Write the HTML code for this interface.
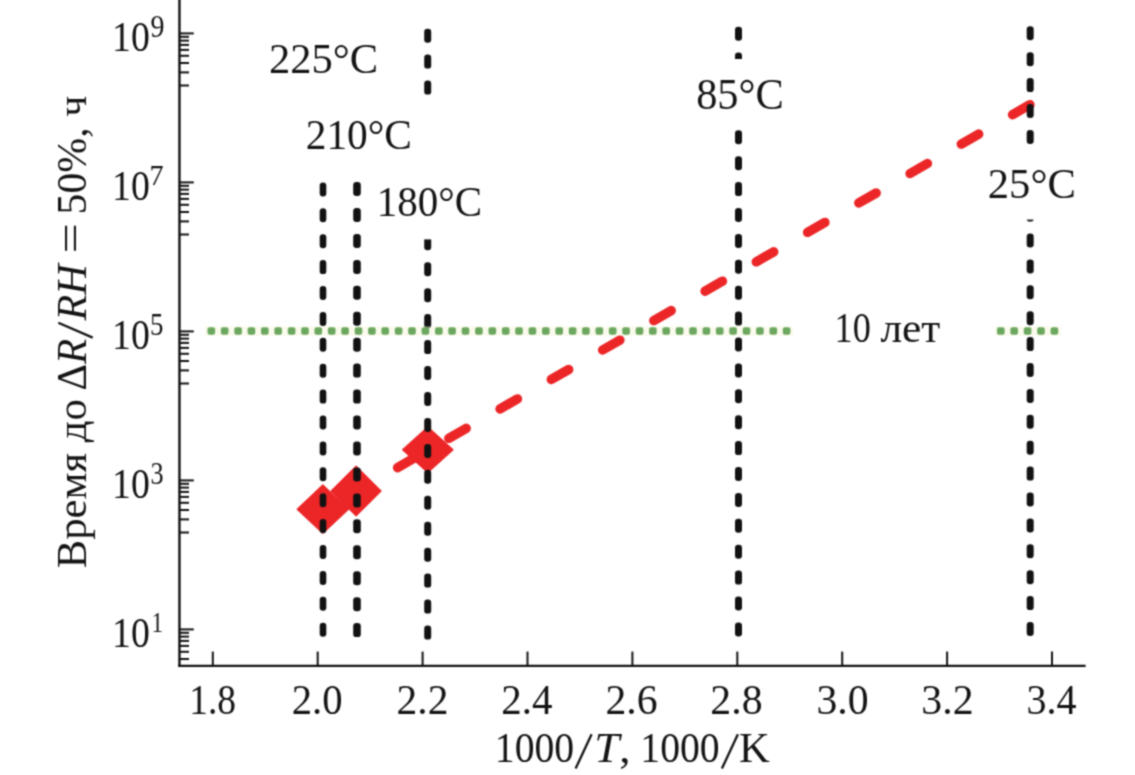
<!DOCTYPE html>
<html><head><meta charset="utf-8"><style>
html,body{margin:0;padding:0;background:#fff;width:1135px;height:775px;overflow:hidden}
svg{display:block}
</style></head><body>
<svg width="1135" height="775" viewBox="0 0 1135 775"><defs><filter id="bl" x="0" y="0" width="1135" height="775" filterUnits="userSpaceOnUse" color-interpolation-filters="sRGB"><feConvolveMatrix order="3" kernelMatrix="1 2 1 2 6 2 1 2 1" edgeMode="duplicate"/></filter></defs><g filter="url(#bl)"><rect width="1135" height="775" fill="#fff"/><line x1="397.6" y1="467.7" x2="414.9" y2="457.7" stroke="#ec2527" stroke-width="9.5" stroke-linecap="round"/>
<line x1="448.8" y1="438.3" x2="466.2" y2="428.3" stroke="#ec2527" stroke-width="9.5" stroke-linecap="round"/>
<line x1="500.1" y1="408.9" x2="517.4" y2="398.9" stroke="#ec2527" stroke-width="9.5" stroke-linecap="round"/>
<line x1="551.3" y1="379.4" x2="568.7" y2="369.5" stroke="#ec2527" stroke-width="9.5" stroke-linecap="round"/>
<line x1="602.6" y1="350.0" x2="619.9" y2="340.1" stroke="#ec2527" stroke-width="9.5" stroke-linecap="round"/>
<line x1="653.8" y1="320.6" x2="671.2" y2="310.6" stroke="#ec2527" stroke-width="9.5" stroke-linecap="round"/>
<line x1="705.1" y1="291.2" x2="722.4" y2="281.2" stroke="#ec2527" stroke-width="9.5" stroke-linecap="round"/>
<line x1="756.3" y1="261.8" x2="773.7" y2="251.8" stroke="#ec2527" stroke-width="9.5" stroke-linecap="round"/>
<line x1="807.6" y1="232.3" x2="824.9" y2="222.4" stroke="#ec2527" stroke-width="9.5" stroke-linecap="round"/>
<line x1="858.8" y1="202.9" x2="876.2" y2="193.0" stroke="#ec2527" stroke-width="9.5" stroke-linecap="round"/>
<line x1="910.1" y1="173.5" x2="927.4" y2="163.5" stroke="#ec2527" stroke-width="9.5" stroke-linecap="round"/>
<line x1="961.3" y1="144.1" x2="978.7" y2="134.1" stroke="#ec2527" stroke-width="9.5" stroke-linecap="round"/>
<line x1="1012.6" y1="114.7" x2="1029.9" y2="104.7" stroke="#ec2527" stroke-width="9.5" stroke-linecap="round"/>
<polygon points="297.2,509.2 322.8,485.0 348.4,509.2 322.8,533.4" fill="#ec2527" stroke="#ec2527" stroke-width="1.2" stroke-linejoin="round"/>
<polygon points="331.2,491.0 356.1,466.1 381.0,491.0 356.1,515.9" fill="#ec2527" stroke="#ec2527" stroke-width="1.2" stroke-linejoin="round"/>
<polygon points="402.6,449.7 427.8,426.9 453.0,449.7 427.8,472.5" fill="#ec2527" stroke="#ec2527" stroke-width="1.2" stroke-linejoin="round"/>
<rect x="319.70" y="182.4" width="6.6" height="14" rx="3.2" fill="#121212"/><rect x="319.70" y="208.3" width="6.6" height="14" rx="3.2" fill="#121212"/><rect x="319.70" y="234.2" width="6.6" height="14" rx="3.2" fill="#121212"/><rect x="319.70" y="260.1" width="6.6" height="14" rx="3.2" fill="#121212"/><rect x="319.70" y="286.0" width="6.6" height="14" rx="3.2" fill="#121212"/><rect x="319.70" y="311.9" width="6.6" height="14" rx="3.2" fill="#121212"/><rect x="319.70" y="337.8" width="6.6" height="14" rx="3.2" fill="#121212"/><rect x="319.70" y="363.7" width="6.6" height="14" rx="3.2" fill="#121212"/><rect x="319.70" y="389.6" width="6.6" height="14" rx="3.2" fill="#121212"/><rect x="319.70" y="415.5" width="6.6" height="14" rx="3.2" fill="#121212"/><rect x="319.70" y="441.4" width="6.6" height="14" rx="3.2" fill="#121212"/><rect x="319.70" y="467.3" width="6.6" height="14" rx="3.2" fill="#121212"/><rect x="319.70" y="493.2" width="6.6" height="14" rx="3.2" fill="#121212"/><rect x="319.70" y="519.1" width="6.6" height="14" rx="3.2" fill="#121212"/><rect x="319.70" y="545.0" width="6.6" height="14" rx="3.2" fill="#121212"/><rect x="319.70" y="570.9" width="6.6" height="14" rx="3.2" fill="#121212"/><rect x="319.70" y="596.8" width="6.6" height="14" rx="3.2" fill="#121212"/><rect x="319.70" y="622.7" width="6.6" height="14" rx="3.2" fill="#121212"/>
<rect x="353.20" y="182.0" width="7.6" height="14" rx="3.2" fill="#121212"/><rect x="353.20" y="207.9" width="7.6" height="14" rx="3.2" fill="#121212"/><rect x="353.20" y="233.9" width="7.6" height="14" rx="3.2" fill="#121212"/><rect x="353.20" y="259.9" width="7.6" height="14" rx="3.2" fill="#121212"/><rect x="353.20" y="285.8" width="7.6" height="14" rx="3.2" fill="#121212"/><rect x="353.20" y="311.8" width="7.6" height="14" rx="3.2" fill="#121212"/><rect x="353.20" y="337.7" width="7.6" height="14" rx="3.2" fill="#121212"/><rect x="353.20" y="363.6" width="7.6" height="14" rx="3.2" fill="#121212"/><rect x="353.20" y="389.6" width="7.6" height="14" rx="3.2" fill="#121212"/><rect x="353.20" y="415.5" width="7.6" height="14" rx="3.2" fill="#121212"/><rect x="353.20" y="441.5" width="7.6" height="14" rx="3.2" fill="#121212"/><rect x="353.20" y="467.4" width="7.6" height="14" rx="3.2" fill="#121212"/><rect x="353.20" y="493.4" width="7.6" height="14" rx="3.2" fill="#121212"/><rect x="353.20" y="519.3" width="7.6" height="14" rx="3.2" fill="#121212"/><rect x="353.20" y="545.3" width="7.6" height="14" rx="3.2" fill="#121212"/><rect x="353.20" y="571.2" width="7.6" height="14" rx="3.2" fill="#121212"/><rect x="353.20" y="597.2" width="7.6" height="14" rx="3.2" fill="#121212"/><rect x="353.20" y="623.1" width="7.6" height="14" rx="3.2" fill="#121212"/>
<rect x="424.20" y="28.7" width="7" height="14" rx="3.2" fill="#121212"/><rect x="424.20" y="54.6" width="7" height="14" rx="3.2" fill="#121212"/><rect x="424.20" y="80.6" width="7" height="14" rx="3.2" fill="#121212"/><rect x="424.20" y="236.3" width="7" height="14" rx="3.2" fill="#121212"/><rect x="424.20" y="262.2" width="7" height="14" rx="3.2" fill="#121212"/><rect x="424.20" y="288.2" width="7" height="14" rx="3.2" fill="#121212"/><rect x="424.20" y="314.1" width="7" height="14" rx="3.2" fill="#121212"/><rect x="424.20" y="340.1" width="7" height="14" rx="3.2" fill="#121212"/><rect x="424.20" y="366.0" width="7" height="14" rx="3.2" fill="#121212"/><rect x="424.20" y="392.0" width="7" height="14" rx="3.2" fill="#121212"/><rect x="424.20" y="417.9" width="7" height="14" rx="3.2" fill="#121212"/><rect x="424.20" y="443.9" width="7" height="14" rx="3.2" fill="#121212"/><rect x="424.20" y="469.8" width="7" height="14" rx="3.2" fill="#121212"/><rect x="424.20" y="495.8" width="7" height="14" rx="3.2" fill="#121212"/><rect x="424.20" y="521.8" width="7" height="14" rx="3.2" fill="#121212"/><rect x="424.20" y="547.7" width="7" height="14" rx="3.2" fill="#121212"/><rect x="424.20" y="573.6" width="7" height="14" rx="3.2" fill="#121212"/><rect x="424.20" y="599.6" width="7" height="14" rx="3.2" fill="#121212"/><rect x="424.20" y="625.6" width="7" height="14" rx="3.2" fill="#121212"/>
<rect x="735.00" y="26.7" width="7" height="14" rx="3.2" fill="#121212"/><rect x="735.00" y="52.6" width="7" height="14" rx="3.2" fill="#121212"/><rect x="735.00" y="78.5" width="7" height="14" rx="3.2" fill="#121212"/><rect x="735.00" y="104.4" width="7" height="14" rx="3.2" fill="#121212"/><rect x="735.00" y="130.3" width="7" height="14" rx="3.2" fill="#121212"/><rect x="735.00" y="156.2" width="7" height="14" rx="3.2" fill="#121212"/><rect x="735.00" y="182.1" width="7" height="14" rx="3.2" fill="#121212"/><rect x="735.00" y="208.0" width="7" height="14" rx="3.2" fill="#121212"/><rect x="735.00" y="233.9" width="7" height="14" rx="3.2" fill="#121212"/><rect x="735.00" y="259.8" width="7" height="14" rx="3.2" fill="#121212"/><rect x="735.00" y="285.7" width="7" height="14" rx="3.2" fill="#121212"/><rect x="735.00" y="311.6" width="7" height="14" rx="3.2" fill="#121212"/><rect x="735.00" y="337.5" width="7" height="14" rx="3.2" fill="#121212"/><rect x="735.00" y="363.4" width="7" height="14" rx="3.2" fill="#121212"/><rect x="735.00" y="389.3" width="7" height="14" rx="3.2" fill="#121212"/><rect x="735.00" y="415.2" width="7" height="14" rx="3.2" fill="#121212"/><rect x="735.00" y="441.1" width="7" height="14" rx="3.2" fill="#121212"/><rect x="735.00" y="467.0" width="7" height="14" rx="3.2" fill="#121212"/><rect x="735.00" y="492.9" width="7" height="14" rx="3.2" fill="#121212"/><rect x="735.00" y="518.8" width="7" height="14" rx="3.2" fill="#121212"/><rect x="735.00" y="544.7" width="7" height="14" rx="3.2" fill="#121212"/><rect x="735.00" y="570.6" width="7" height="14" rx="3.2" fill="#121212"/><rect x="735.00" y="596.5" width="7" height="14" rx="3.2" fill="#121212"/><rect x="735.00" y="622.4" width="7" height="14" rx="3.2" fill="#121212"/>
<rect x="1026.70" y="26.3" width="7" height="14" rx="3.2" fill="#121212"/><rect x="1026.70" y="52.2" width="7" height="14" rx="3.2" fill="#121212"/><rect x="1026.70" y="78.1" width="7" height="14" rx="3.2" fill="#121212"/><rect x="1026.70" y="104.0" width="7" height="14" rx="3.2" fill="#121212"/><rect x="1026.70" y="129.9" width="7" height="14" rx="3.2" fill="#121212"/><rect x="1026.70" y="155.8" width="7" height="14" rx="3.2" fill="#121212"/><rect x="1026.70" y="181.7" width="7" height="14" rx="3.2" fill="#121212"/><rect x="1026.70" y="207.6" width="7" height="14" rx="3.2" fill="#121212"/><rect x="1026.70" y="233.5" width="7" height="14" rx="3.2" fill="#121212"/><rect x="1026.70" y="259.4" width="7" height="14" rx="3.2" fill="#121212"/><rect x="1026.70" y="285.3" width="7" height="14" rx="3.2" fill="#121212"/><rect x="1026.70" y="311.2" width="7" height="14" rx="3.2" fill="#121212"/><rect x="1026.70" y="337.1" width="7" height="14" rx="3.2" fill="#121212"/><rect x="1026.70" y="363.0" width="7" height="14" rx="3.2" fill="#121212"/><rect x="1026.70" y="388.9" width="7" height="14" rx="3.2" fill="#121212"/><rect x="1026.70" y="414.8" width="7" height="14" rx="3.2" fill="#121212"/><rect x="1026.70" y="440.7" width="7" height="14" rx="3.2" fill="#121212"/><rect x="1026.70" y="466.6" width="7" height="14" rx="3.2" fill="#121212"/><rect x="1026.70" y="492.5" width="7" height="14" rx="3.2" fill="#121212"/><rect x="1026.70" y="518.4" width="7" height="14" rx="3.2" fill="#121212"/><rect x="1026.70" y="544.3" width="7" height="14" rx="3.2" fill="#121212"/><rect x="1026.70" y="570.2" width="7" height="14" rx="3.2" fill="#121212"/><rect x="1026.70" y="596.1" width="7" height="14" rx="3.2" fill="#121212"/><rect x="1026.70" y="622.0" width="7" height="14" rx="3.2" fill="#121212"/>
<rect x="205" y="326.3" width="588" height="9.5" fill="#f3f6d8" opacity="0.45"/><rect x="995" y="326.3" width="66" height="9.5" fill="#f3f6d8" opacity="0.45"/>
<rect x="207.5" y="327.2" width="7.6" height="7.6" rx="2" fill="#6ca760"/><rect x="220.9" y="327.2" width="7.6" height="7.6" rx="2" fill="#6ca760"/><rect x="234.3" y="327.2" width="7.6" height="7.6" rx="2" fill="#6ca760"/><rect x="247.6" y="327.2" width="7.6" height="7.6" rx="2" fill="#6ca760"/><rect x="261.0" y="327.2" width="7.6" height="7.6" rx="2" fill="#6ca760"/><rect x="274.4" y="327.2" width="7.6" height="7.6" rx="2" fill="#6ca760"/><rect x="287.8" y="327.2" width="7.6" height="7.6" rx="2" fill="#6ca760"/><rect x="301.2" y="327.2" width="7.6" height="7.6" rx="2" fill="#6ca760"/><rect x="314.5" y="327.2" width="7.6" height="7.6" rx="2" fill="#6ca760"/><rect x="327.9" y="327.2" width="7.6" height="7.6" rx="2" fill="#6ca760"/><rect x="341.3" y="327.2" width="7.6" height="7.6" rx="2" fill="#6ca760"/><rect x="354.7" y="327.2" width="7.6" height="7.6" rx="2" fill="#6ca760"/><rect x="368.1" y="327.2" width="7.6" height="7.6" rx="2" fill="#6ca760"/><rect x="381.4" y="327.2" width="7.6" height="7.6" rx="2" fill="#6ca760"/><rect x="394.8" y="327.2" width="7.6" height="7.6" rx="2" fill="#6ca760"/><rect x="408.2" y="327.2" width="7.6" height="7.6" rx="2" fill="#6ca760"/><rect x="421.6" y="327.2" width="7.6" height="7.6" rx="2" fill="#6ca760"/><rect x="435.0" y="327.2" width="7.6" height="7.6" rx="2" fill="#6ca760"/><rect x="448.3" y="327.2" width="7.6" height="7.6" rx="2" fill="#6ca760"/><rect x="461.7" y="327.2" width="7.6" height="7.6" rx="2" fill="#6ca760"/><rect x="475.1" y="327.2" width="7.6" height="7.6" rx="2" fill="#6ca760"/><rect x="488.5" y="327.2" width="7.6" height="7.6" rx="2" fill="#6ca760"/><rect x="501.9" y="327.2" width="7.6" height="7.6" rx="2" fill="#6ca760"/><rect x="515.2" y="327.2" width="7.6" height="7.6" rx="2" fill="#6ca760"/><rect x="528.6" y="327.2" width="7.6" height="7.6" rx="2" fill="#6ca760"/><rect x="542.0" y="327.2" width="7.6" height="7.6" rx="2" fill="#6ca760"/><rect x="555.4" y="327.2" width="7.6" height="7.6" rx="2" fill="#6ca760"/><rect x="568.8" y="327.2" width="7.6" height="7.6" rx="2" fill="#6ca760"/><rect x="582.1" y="327.2" width="7.6" height="7.6" rx="2" fill="#6ca760"/><rect x="595.5" y="327.2" width="7.6" height="7.6" rx="2" fill="#6ca760"/><rect x="608.9" y="327.2" width="7.6" height="7.6" rx="2" fill="#6ca760"/><rect x="622.3" y="327.2" width="7.6" height="7.6" rx="2" fill="#6ca760"/><rect x="635.7" y="327.2" width="7.6" height="7.6" rx="2" fill="#6ca760"/><rect x="649.0" y="327.2" width="7.6" height="7.6" rx="2" fill="#6ca760"/><rect x="662.4" y="327.2" width="7.6" height="7.6" rx="2" fill="#6ca760"/><rect x="675.8" y="327.2" width="7.6" height="7.6" rx="2" fill="#6ca760"/><rect x="689.2" y="327.2" width="7.6" height="7.6" rx="2" fill="#6ca760"/><rect x="702.6" y="327.2" width="7.6" height="7.6" rx="2" fill="#6ca760"/><rect x="715.9" y="327.2" width="7.6" height="7.6" rx="2" fill="#6ca760"/><rect x="729.3" y="327.2" width="7.6" height="7.6" rx="2" fill="#6ca760"/><rect x="742.7" y="327.2" width="7.6" height="7.6" rx="2" fill="#6ca760"/><rect x="756.1" y="327.2" width="7.6" height="7.6" rx="2" fill="#6ca760"/><rect x="769.5" y="327.2" width="7.6" height="7.6" rx="2" fill="#6ca760"/><rect x="782.8" y="327.2" width="7.6" height="7.6" rx="2" fill="#6ca760"/><rect x="997.0" y="327.2" width="7.6" height="7.6" rx="2" fill="#6ca760"/><rect x="1010.4" y="327.2" width="7.6" height="7.6" rx="2" fill="#6ca760"/><rect x="1023.8" y="327.2" width="7.6" height="7.6" rx="2" fill="#6ca760"/><rect x="1037.2" y="327.2" width="7.6" height="7.6" rx="2" fill="#6ca760"/><rect x="1050.6" y="327.2" width="7.6" height="7.6" rx="2" fill="#6ca760"/>
<rect x="700" y="59" width="80" height="71" fill="#fff"/>
<rect x="990" y="144.6" width="80" height="75" fill="#fff"/>
<rect x="400" y="95" width="60" height="144.4" fill="#fff"/>
<line x1="179.45" y1="0" x2="179.45" y2="667.1" stroke="#121212" stroke-width="2.4"/>
<line x1="178.25" y1="665.9" x2="1085.6" y2="665.9" stroke="#121212" stroke-width="2.1"/>
<line x1="179.45" y1="33.4" x2="193.8" y2="33.4" stroke="#121212" stroke-width="2"/>
<line x1="179.45" y1="36.8" x2="189.0" y2="36.8" stroke="#121212" stroke-width="2"/>
<line x1="179.45" y1="40.6" x2="189.0" y2="40.6" stroke="#121212" stroke-width="2"/>
<line x1="179.45" y1="44.9" x2="189.0" y2="44.9" stroke="#121212" stroke-width="2"/>
<line x1="179.45" y1="49.9" x2="189.0" y2="49.9" stroke="#121212" stroke-width="2"/>
<line x1="179.45" y1="55.8" x2="189.0" y2="55.8" stroke="#121212" stroke-width="2"/>
<line x1="179.45" y1="63.0" x2="189.0" y2="63.0" stroke="#121212" stroke-width="2"/>
<line x1="179.45" y1="72.4" x2="189.0" y2="72.4" stroke="#121212" stroke-width="2"/>
<line x1="179.45" y1="85.5" x2="189.0" y2="85.5" stroke="#121212" stroke-width="2"/>
<line x1="179.45" y1="182.4" x2="193.8" y2="182.4" stroke="#121212" stroke-width="2"/>
<line x1="179.45" y1="185.8" x2="189.0" y2="185.8" stroke="#121212" stroke-width="2"/>
<line x1="179.45" y1="189.6" x2="189.0" y2="189.6" stroke="#121212" stroke-width="2"/>
<line x1="179.45" y1="193.9" x2="189.0" y2="193.9" stroke="#121212" stroke-width="2"/>
<line x1="179.45" y1="198.9" x2="189.0" y2="198.9" stroke="#121212" stroke-width="2"/>
<line x1="179.45" y1="204.8" x2="189.0" y2="204.8" stroke="#121212" stroke-width="2"/>
<line x1="179.45" y1="212.0" x2="189.0" y2="212.0" stroke="#121212" stroke-width="2"/>
<line x1="179.45" y1="221.4" x2="189.0" y2="221.4" stroke="#121212" stroke-width="2"/>
<line x1="179.45" y1="234.5" x2="189.0" y2="234.5" stroke="#121212" stroke-width="2"/>
<line x1="179.45" y1="331.4" x2="193.8" y2="331.4" stroke="#121212" stroke-width="2"/>
<line x1="179.45" y1="334.8" x2="189.0" y2="334.8" stroke="#121212" stroke-width="2"/>
<line x1="179.45" y1="338.6" x2="189.0" y2="338.6" stroke="#121212" stroke-width="2"/>
<line x1="179.45" y1="342.9" x2="189.0" y2="342.9" stroke="#121212" stroke-width="2"/>
<line x1="179.45" y1="347.9" x2="189.0" y2="347.9" stroke="#121212" stroke-width="2"/>
<line x1="179.45" y1="353.8" x2="189.0" y2="353.8" stroke="#121212" stroke-width="2"/>
<line x1="179.45" y1="361.0" x2="189.0" y2="361.0" stroke="#121212" stroke-width="2"/>
<line x1="179.45" y1="370.4" x2="189.0" y2="370.4" stroke="#121212" stroke-width="2"/>
<line x1="179.45" y1="383.5" x2="189.0" y2="383.5" stroke="#121212" stroke-width="2"/>
<line x1="179.45" y1="480.4" x2="193.8" y2="480.4" stroke="#121212" stroke-width="2"/>
<line x1="179.45" y1="483.8" x2="189.0" y2="483.8" stroke="#121212" stroke-width="2"/>
<line x1="179.45" y1="487.6" x2="189.0" y2="487.6" stroke="#121212" stroke-width="2"/>
<line x1="179.45" y1="491.9" x2="189.0" y2="491.9" stroke="#121212" stroke-width="2"/>
<line x1="179.45" y1="496.9" x2="189.0" y2="496.9" stroke="#121212" stroke-width="2"/>
<line x1="179.45" y1="502.8" x2="189.0" y2="502.8" stroke="#121212" stroke-width="2"/>
<line x1="179.45" y1="510.0" x2="189.0" y2="510.0" stroke="#121212" stroke-width="2"/>
<line x1="179.45" y1="519.4" x2="189.0" y2="519.4" stroke="#121212" stroke-width="2"/>
<line x1="179.45" y1="532.5" x2="189.0" y2="532.5" stroke="#121212" stroke-width="2"/>
<line x1="179.45" y1="629.4" x2="193.8" y2="629.4" stroke="#121212" stroke-width="2"/>
<line x1="179.45" y1="632.8" x2="189.0" y2="632.8" stroke="#121212" stroke-width="2"/>
<line x1="179.45" y1="636.6" x2="189.0" y2="636.6" stroke="#121212" stroke-width="2"/>
<line x1="179.45" y1="640.9" x2="189.0" y2="640.9" stroke="#121212" stroke-width="2"/>
<line x1="179.45" y1="645.9" x2="189.0" y2="645.9" stroke="#121212" stroke-width="2"/>
<line x1="179.45" y1="651.8" x2="189.0" y2="651.8" stroke="#121212" stroke-width="2"/>
<line x1="179.45" y1="659.0" x2="189.0" y2="659.0" stroke="#121212" stroke-width="2"/>
<line x1="212.8" y1="651.6" x2="212.8" y2="665.9" stroke="#121212" stroke-width="2"/>
<line x1="317.7" y1="651.6" x2="317.7" y2="665.9" stroke="#121212" stroke-width="2"/>
<line x1="422.6" y1="651.6" x2="422.6" y2="665.9" stroke="#121212" stroke-width="2"/>
<line x1="527.5" y1="651.6" x2="527.5" y2="665.9" stroke="#121212" stroke-width="2"/>
<line x1="632.4" y1="651.6" x2="632.4" y2="665.9" stroke="#121212" stroke-width="2"/>
<line x1="737.3" y1="651.6" x2="737.3" y2="665.9" stroke="#121212" stroke-width="2"/>
<line x1="842.2" y1="651.6" x2="842.2" y2="665.9" stroke="#121212" stroke-width="2"/>
<line x1="947.1" y1="651.6" x2="947.1" y2="665.9" stroke="#121212" stroke-width="2"/>
<line x1="1052.0" y1="651.6" x2="1052.0" y2="665.9" stroke="#121212" stroke-width="2"/>
<text transform="translate(268.97,72.80) scale(0.9670,0.9690)" font-family="Liberation Serif" font-size="44" fill="#141414">225°C</text>
<text transform="translate(305.72,149.00) scale(0.9404,0.9690)" font-family="Liberation Serif" font-size="44" fill="#141414">210°C</text>
<text transform="translate(376.77,216.40) scale(0.9318,0.9793)" font-family="Liberation Serif" font-size="44" fill="#141414">180°C</text>
<text transform="translate(696.14,109.30) scale(0.9636,0.9862)" font-family="Liberation Serif" font-size="44" fill="#141414">85°C</text>
<text transform="translate(987.76,197.80) scale(0.9690,0.9690)" font-family="Liberation Serif" font-size="44" fill="#141414">25°C</text>
<text transform="translate(834.61,342.30) scale(0.8231,0.9690)" font-family="Liberation Serif" font-size="44" fill="#141414">10</text>
<text transform="translate(189.19,714.00) scale(0.8520,0.9655)" font-family="Liberation Serif" font-size="44" fill="#141414">1.8</text>
<text transform="translate(291.70,714.00) scale(0.9250,0.9655)" font-family="Liberation Serif" font-size="44" fill="#141414">2.0</text>
<text transform="translate(396.56,714.00) scale(0.9431,0.9655)" font-family="Liberation Serif" font-size="44" fill="#141414">2.2</text>
<text transform="translate(501.34,714.00) scale(0.9321,0.9655)" font-family="Liberation Serif" font-size="44" fill="#141414">2.4</text>
<text transform="translate(605.45,714.00) scale(0.9481,0.9655)" font-family="Liberation Serif" font-size="44" fill="#141414">2.6</text>
<text transform="translate(710.30,714.00) scale(0.9500,0.9655)" font-family="Liberation Serif" font-size="44" fill="#141414">2.8</text>
<text transform="translate(816.45,714.00) scale(0.9481,0.9655)" font-family="Liberation Serif" font-size="44" fill="#141414">3.0</text>
<text transform="translate(921.35,714.00) scale(0.9510,0.9655)" font-family="Liberation Serif" font-size="44" fill="#141414">3.2</text>
<text transform="translate(1026.53,714.00) scale(0.9113,0.9655)" font-family="Liberation Serif" font-size="44" fill="#141414">3.4</text>
<text transform="translate(112.06,51.00) scale(0.8590,0.9586)" font-family="Liberation Serif" font-size="44" fill="#141414">10</text>
<text transform="translate(150.47,36.60) scale(0.6350,0.7069)" font-family="Liberation Serif" font-size="44" fill="#141414">9</text>
<text transform="translate(112.06,200.00) scale(0.8590,0.9586)" font-family="Liberation Serif" font-size="44" fill="#141414">10</text>
<text transform="translate(149.58,185.00) scale(0.6389,0.6862)" font-family="Liberation Serif" font-size="44" fill="#141414">7</text>
<text transform="translate(112.06,349.00) scale(0.8590,0.9586)" font-family="Liberation Serif" font-size="44" fill="#141414">10</text>
<text transform="translate(150.08,334.60) scale(0.6105,0.7069)" font-family="Liberation Serif" font-size="44" fill="#141414">5</text>
<text transform="translate(112.06,498.00) scale(0.8590,0.9586)" font-family="Liberation Serif" font-size="44" fill="#141414">10</text>
<text transform="translate(150.61,483.60) scale(0.5947,0.7069)" font-family="Liberation Serif" font-size="44" fill="#141414">3</text>
<text transform="translate(112.06,647.00) scale(0.8590,0.9586)" font-family="Liberation Serif" font-size="44" fill="#141414">10</text>
<text transform="translate(151.50,632.00) scale(0.5250,0.6862)" font-family="Liberation Serif" font-size="44" fill="#141414">1</text>
<text transform="translate(880.40,341.90) scale(0.9867,0.9690)" font-family="Liberation Serif" font-size="44" fill="#141414">лет</text>
<text transform="translate(494.79,761.90) scale(0.9024,0.9724)" font-family="Liberation Serif" font-size="44" fill="#141414">1000</text>
<text transform="translate(594.22,761.90) scale(1.0267,0.9724)" font-family="Liberation Serif" font-size="44" fill="#141414"><tspan font-style="italic">T</tspan>,</text>
<text transform="translate(640.29,761.90) scale(0.9024,0.9724)" font-family="Liberation Serif" font-size="44" fill="#141414">1000</text>
<text transform="translate(738.93,761.90) scale(0.9677,0.9724)" font-family="Liberation Serif" font-size="44" fill="#141414">K</text>
<text transform="translate(85.60,568.27) rotate(-90) scale(0.9698,0.9414)" font-family="Liberation Serif" font-size="44" fill="#141414">Время до</text>
<text transform="translate(85.60,390.54) rotate(-90) scale(0.9370,0.9414)" font-family="Liberation Serif" font-size="44" fill="#141414">Δ<tspan font-style="italic">R</tspan></text>
<text transform="translate(85.60,320.60) rotate(-90) scale(0.9607,0.9414)" font-family="Liberation Serif" font-size="44" fill="#141414"><tspan font-style="italic">RH</tspan></text>
<text transform="translate(83.60,253.45) rotate(-90) scale(1.2238,0.9414)" font-family="Liberation Serif" font-size="44" fill="#141414">=</text>
<text transform="translate(85.60,214.50) rotate(-90) scale(0.9516,0.9414)" font-family="Liberation Serif" font-size="44" fill="#141414">50%, ч</text>
<line x1="575.6" y1="768.6" x2="591.6" y2="734.2" stroke="#141414" stroke-width="2.3"/>
<line x1="721.9" y1="768.6" x2="737.9" y2="734.2" stroke="#141414" stroke-width="2.3"/>
<line x1="58.3" y1="322.7" x2="92.7" y2="337.6" stroke="#141414" stroke-width="2.3"/></g></svg>
</body></html>
